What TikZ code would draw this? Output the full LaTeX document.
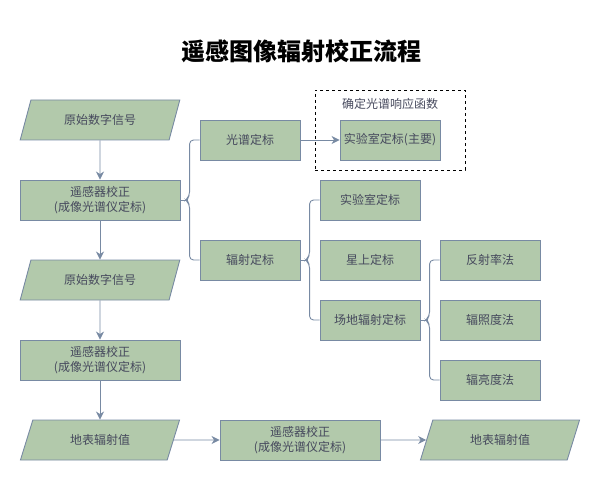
\documentclass[tikz,border=0pt]{standalone}
\usepackage{fontspec}
\setmainfont{Noto Sans CJK SC}
\newfontfamily\cjk{Noto Sans CJK SC}
\usetikzlibrary{shapes.geometric,arrows.meta,calc}
\definecolor{gfill}{HTML}{B2C9AB}
\definecolor{gline}{HTML}{788AA3}
\definecolor{gtext}{HTML}{46495D}
\tikzset{
  base/.style={fill=gfill,draw=gline,line width=0.9pt,text=gtext,font=\cjk\fontsize{12}{14.5}\selectfont,align=center,inner sep=0pt},
  box/.style={base,rectangle,minimum width=160,minimum height=40},
  sbox/.style={base,rectangle,minimum width=100,minimum height=40},
  para/.style={base,trapezium,trapezium left angle=63.43,trapezium right angle=116.57,trapezium stretches=true,minimum width=160,minimum height=40},
  conn/.style={draw=gline,line width=0.9pt},
  arr/.style={conn,-{Stealth[length=8,width=8,inset=2.5]}},
}
\begin{document}
\begin{tikzpicture}[x=1pt,y=-1pt]
\useasboundingbox (0,0) rectangle (601,481);
\node[font=\cjk\bfseries\fontsize{24}{27}\selectfont] (title) at (301,51) {遥感图像辐射校正流程};
% left column
\node[para] (p1) at (100,120) {原始数字信号};
\node[box] (b2) at (100,200) {遥感器校正\\(成像光谱仪定标)};
\node[para] (p3) at (100,280) {原始数字信号};
\node[box] (b4) at (100,360) {遥感器校正\\(成像光谱仪定标)};
\node[para] (p5) at (100,440) {地表辐射值};
\node[box] (b6) at (300,440) {遥感器校正\\(成像光谱仪定标)};
\node[para] (p7) at (500,440) {地表辐射值};
% calibration
\node[sbox] (gp) at (250,140) {光谱定标};
\node[sbox] (fs) at (250,260) {辐射定标};
\node[draw,dashed,line width=0.8pt,minimum width=150,minimum height=80,inner sep=0pt] (dash) at (390,130) {};
\node[text=gtext,font=\cjk\fontsize{12}{14}\selectfont,inner sep=0pt] (dlab) at (390,104) {确定光谱响应函数};
\node[sbox] (lab1) at (390,140) {实验室定标(主要)};
\node[sbox] (lab2) at (370,200) {实验室定标};
\node[sbox] (sat) at (370,260) {星上定标};
\node[sbox] (site) at (370,320) {场地辐射定标};
\node[sbox] (r1) at (490,260) {反射率法};
\node[sbox] (r2) at (490,320) {辐照度法};
\node[sbox] (r3) at (490,380) {辐亮度法};
% arrows
\draw[arr] (p1) -- (b2);
\draw[arr] (b2) -- (p3);
\draw[arr] (p3) -- (b4);
\draw[arr] (b4) -- (p5);
\draw[arr] (p5.east) -- (b6.west);
\draw[arr] (b6.east) -- (p7.west);
\draw[arr] (gp.east) -- (lab1.west);
% braces
\draw[conn,rounded corners=4] (gp.west) -- ++(-10,0) -- ($(gp.west |- b2.east)+(-10,-4)$) -- ($(gp.west |- b2.east)+(-14,0)$) -- ($(gp.west |- b2.east)+(-10,4)$) -- ($(gp.west |- fs.west)+(-10,0)$) -- (fs.west);
\draw[conn] (b2.east) -- ($(gp.west |- b2.east)+(-14,0)$);
\draw[conn,rounded corners=4] (lab2.west) -- ++(-10,0) -- ($(lab2.west |- fs.east)+(-10,-4)$) -- ($(lab2.west |- fs.east)+(-14,0)$) -- ($(lab2.west |- fs.east)+(-10,4)$) -- ($(lab2.west |- site.west)+(-10,0)$) -- (site.west);
\draw[conn] (fs.east) -- ($(lab2.west |- fs.east)+(-14,0)$);
\draw[conn,rounded corners=4] (r1.west) -- ++(-10,0) -- ($(r1.west |- site.east)+(-10,-4)$) -- ($(r1.west |- site.east)+(-14,0)$) -- ($(r1.west |- site.east)+(-10,4)$) -- ($(r1.west |- r3.west)+(-10,0)$) -- (r3.west);
\draw[conn] (site.east) -- ($(r1.west |- site.east)+(-14,0)$);
\end{tikzpicture}
\end{document}
